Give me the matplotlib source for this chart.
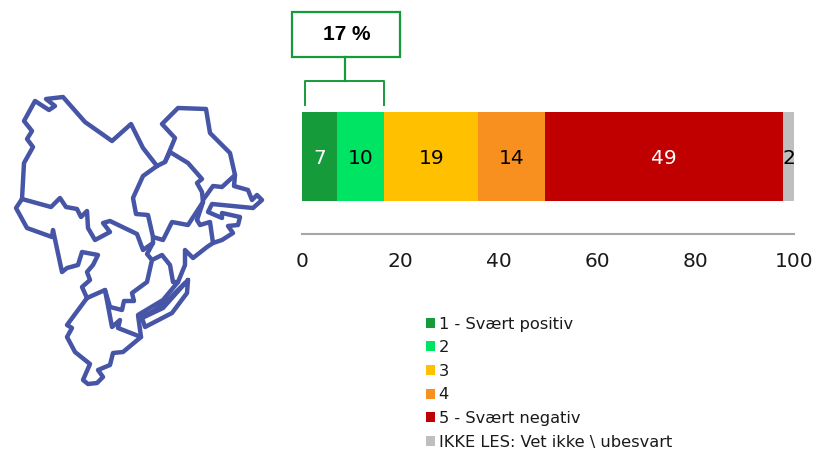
#!/usr/bin/env python3
import matplotlib
matplotlib.use("Agg")
import matplotlib.pyplot as plt
from matplotlib.patches import Patch, Rectangle

W, H = 815, 449

categories = ["1 - Svært positiv", "2", "3", "4", "5 - Svært negativ",
              "IKKE LES: Vet ikke \\ ubesvart"]
widths = [7.1, 9.6, 19.1, 13.6, 48.4, 2.2]
labels = [7, 10, 19, 14, 49, 2]
colors = ["#169B3A", "#00E463", "#FFC000", "#F7901E", "#C00000", "#BFBFBF"]
label_colors = ["white", "black", "black", "black", "white", "black"]
ticks = [0, 20, 40, 60, 80, 100]
callout = "17 %"

# map outline, traced in image pixels
map_paths = [
    # big region top left
    [(22, 199), (24, 163), (33, 147), (27, 139), (32, 131), (24, 121), (35, 101),
     (49, 110), (55, 106), (46, 99), (63, 97), (85, 122), (112, 141), (131, 124),
     (143, 148), (157, 166)],
    [(22, 199), (51, 207), (60, 198), (66, 207), (77, 209), (81, 217), (87, 211),
     (88, 228), (95, 240), (110, 232), (103, 223), (110, 221), (137, 234),
     (143, 250), (153, 243)],
    # lower left
    [(22, 199), (16, 208), (27, 228), (52, 237), (53, 230), (62, 272), (67, 268),
     (78, 265), (82, 252), (98, 255), (93, 265), (87, 272), (90, 280), (82, 287),
     (87, 298)],
    # south
    [(87, 298), (67, 325), (72, 328), (67, 337), (75, 352), (90, 364), (83, 380),
     (88, 384), (97, 383), (103, 377), (98, 370), (110, 365), (113, 353), (123, 352),
     (141, 337), (118, 328), (120, 320), (112, 327), (105, 290), (87, 298)],
    # middle
    [(105, 290), (110, 307), (122, 310), (124, 301), (134, 301), (132, 293),
     (147, 282), (152, 260), (147, 254), (153, 243), (153, 237)],
    # centre
    [(157, 166), (165, 162), (170, 152), (188, 163), (202, 179), (197, 183),
     (202, 192), (203, 202), (188, 225), (172, 222), (163, 240), (153, 237),
     (148, 215), (136, 214), (133, 198), (143, 176), (157, 166)],
    # north east
    [(165, 162), (175, 138), (162, 124), (178, 108), (206, 109), (210, 133),
     (230, 153), (235, 175), (222, 187), (213, 186), (203, 200)],
    # far east
    [(235, 175), (234, 186), (248, 190), (252, 200), (257, 195), (262, 200),
     (253, 208), (212, 204), (208, 212), (222, 218), (222, 213), (240, 217),
     (238, 225), (228, 226), (233, 233), (222, 240), (213, 243), (207, 247),
     (193, 258), (185, 250), (185, 265), (178, 282)],
    [(197, 220), (200, 225), (210, 222), (213, 243)],
    [(197, 220), (203, 202)],
    # coast and island
    [(152, 260), (162, 255), (170, 265), (173, 282), (178, 282), (163, 300),
     (138, 315), (141, 337)],
    [(185, 283), (170, 298), (155, 310), (140, 318)],
    [(188, 280), (187, 293), (172, 313), (145, 327), (142, 318), (163, 308), (188, 280)],
]

fig = plt.figure(figsize=(W / 100, H / 100), dpi=100)

# overlay in pixel coordinates for the map and the callout
over = fig.add_axes([0, 0, 1, 1])
over.set_xlim(0, W)
over.set_ylim(H, 0)
over.axis("off")

for path in map_paths:
    xs, ys = zip(*path)
    over.plot(xs, ys, color="#4655A5", lw=3.2, solid_joinstyle="round",
              solid_capstyle="round")

green = "#169B3A"
over.add_patch(Rectangle((292, 12), 108, 45, fill=False, edgecolor=green, lw=1.6))
over.plot([344.5, 344.5], [57, 81], color=green, lw=1.6)
over.plot([305, 305, 383.5, 383.5], [105, 81, 81, 105], color=green, lw=1.4)
over.text(346.5, 35, callout, ha="center", va="center", fontsize=15,
          fontweight="bold", family="Liberation Sans", color="black")

# stacked bar
ax = fig.add_axes([302 / W, 1 - 234 / H, (794 - 302) / W, (234 - 100) / H])
ax.set_xlim(0, 100)
ax.set_ylim(0, 134)
left = 0
for w, lab, c, tc in zip(widths, labels, colors, label_colors):
    ax.barh(77.5, w, left=left, height=89, color=c)
    ax.text(left + w / 2, 75.5, str(lab), ha="center", va="center",
            fontsize=14.5, color=tc)
    left += w

for s in ["top", "left", "right"]:
    ax.spines[s].set_visible(False)
ax.spines["bottom"].set_color("#A6A6A6")
ax.spines["bottom"].set_linewidth(1.5)
ax.set_yticks([])
ax.set_xticks(ticks)
ax.tick_params(axis="x", length=0, pad=13, labelsize=14.5, labelcolor="#1a1a1a")
ax.patch.set_alpha(0)

handles = [Patch(facecolor=c, edgecolor="none") for c in colors]
fig.legend(handles, categories, loc="upper left",
           bbox_to_anchor=(426 / W, 1 - 316.5 / H), frameon=False, fontsize=11.7,
           handlelength=0.57, handleheight=0.57, handletextpad=0.2,
           labelspacing=0.53, borderpad=0, borderaxespad=0, labelcolor="#1a1a1a")

fig.savefig("out.png", dpi=100)
